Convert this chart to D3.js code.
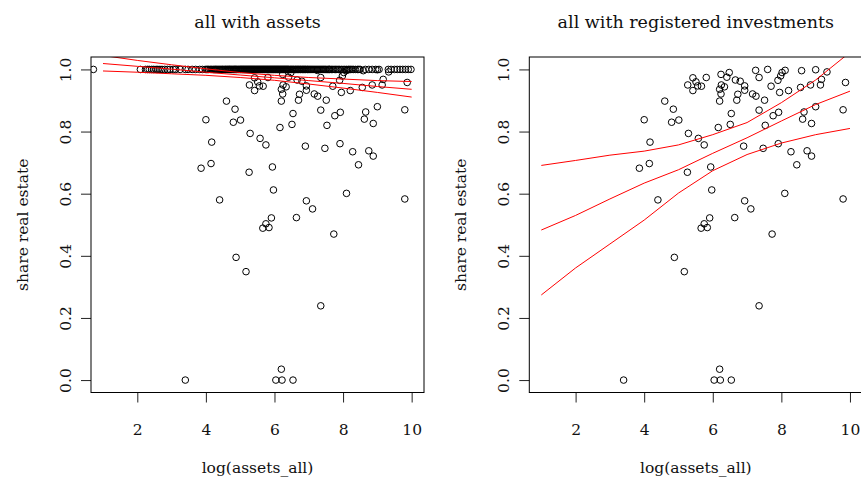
<!DOCTYPE html>
<html>
<head>
<meta charset="utf-8">
<script src="https://cdn.jsdelivr.net/npm/d3@7"></script>
<style>
html,body{margin:0;padding:0;background:#fff;}
svg{display:block;}
text{font-family:"DejaVu Serif","Liberation Serif",serif;fill:#111;}
</style>
</head>
<body>
<svg id="chart" width="861" height="479"></svg>
<script>
// ---- data ----
const panelTitles = ["all with assets", "all with registered investments"];
const xLabel = "log(assets_all)";
const yLabel = "share real estate";
const xTicks = [2, 4, 6, 8, 10];
const yTicks = [0.0, 0.2, 0.4, 0.6, 0.8, 1.0];

// households with registered investments (shown in both panels)
const regX = [4.60,4.85,4.00,4.80,5.01,4.17,5.29,5.58,5.75,3.86,4.15,5.26,5.94,5.97,4.40,6.16,
  5.42,5.51,5.27,5.56,5.67,5.42,5.81,6.24,6.41,6.25,6.34,6.20,6.24,6.20,
  6.48,6.66,6.80,6.93,6.93,6.73,6.70,7.16,7.26,7.51,7.25,7.60,7.35,8.02,8.11,7.98,7.90,7.70,7.95,8.21,
  8.59,9.00,9.33,9.17,9.14,8.85,8.56,9.87,9.80,6.54,6.51,7.35,7.76,7.92,7.53,8.66,8.62,9.00,8.88,
  6.90,7.47,7.91,8.28,8.75,8.88,8.45,8.10,6.93,9.80,
  5.91,6.64,7.11,7.73,5.66,5.75,5.84,4.88,5.17,7.35,3.40,6.04,6.22,6.20,6.54];
const regY = [0.898,0.872,0.838,0.830,0.837,0.766,0.794,0.778,0.757,0.682,0.697,0.669,0.686,0.612,0.580,0.813,
  0.973,0.960,0.950,0.947,0.946,0.932,0.974,0.984,0.975,0.950,0.944,0.936,0.921,0.898,
  0.990,0.966,0.962,0.947,0.933,0.920,0.901,0.921,0.914,0.901,0.997,1.000,0.974,0.990,0.997,0.979,0.965,0.946,0.926,0.932,
  0.996,0.999,0.992,0.968,0.950,0.950,0.942,0.958,0.870,0.858,0.823,0.869,0.851,0.862,0.820,0.863,0.840,0.880,0.826,
  0.753,0.746,0.761,0.735,0.738,0.721,0.693,0.601,0.577,0.583,
  0.522,0.523,0.551,0.470,0.489,0.503,0.491,0.395,0.349,0.239,0.000,0.000,0.000,0.035,0.000];

// other asset holders, all with share 1.0 (left panel only)
const onlyAssetX = [0.72,2.09,2.24,2.30,2.35,2.42,2.48,2.55,2.60,2.66,2.72,2.80,2.88,2.95,3.05,3.12,3.25,3.40,3.48,3.60,
  3.70,3.82,3.90,3.98,4.05,4.12,4.18,4.25,4.30,4.36,4.42,4.48,4.53,4.58,4.63,4.68,4.72,4.77,4.82,4.86,
  4.90,4.95,5.00,5.04,5.08,5.12,5.16,5.20,5.24,5.28,5.32,5.36,5.40,5.44,5.48,5.52,5.56,5.60,5.64,5.68,
  5.72,5.76,5.80,5.84,5.88,5.92,5.96,6.00,6.04,6.08,6.12,6.16,6.20,6.24,6.28,6.32,6.36,6.40,6.45,6.50,
  6.55,6.60,6.65,6.70,6.75,6.80,6.85,6.90,6.95,7.00,7.06,7.12,7.18,7.24,7.30,7.36,7.42,7.48,7.55,7.62,
  7.70,7.78,7.86,7.95,8.05,8.15,8.22,8.30,8.42,8.50,8.65,8.75,8.85,8.95,9.05,9.32,9.40,9.50,9.58,9.66,
  9.74,9.82,9.90,9.98,
  4.02,4.08,4.15,4.22,4.28,4.33,4.39,4.45,4.50,4.56,4.61,4.66,4.70,4.75,4.80,4.84,4.88,4.93,4.98,5.02,
  5.06,5.10,5.14,5.18,5.22,5.26,5.30,5.34,5.38,5.42,5.46,5.50,5.54,5.58,5.62,5.66,5.70,5.74,5.78,5.82,
  5.86,5.90,5.94,5.98,6.02,6.06,6.10,6.14,6.18,6.22,6.26,6.30,6.34,6.38,6.42,6.47,6.52,6.57,6.62,6.67,
  6.72,6.77,6.82,6.87,6.92,6.97,7.03,7.09,7.15,7.21,7.27,7.33,7.39,7.45,7.51,7.58,7.66,7.74,7.82,7.90,
  8.00,8.10,8.18,8.26,8.36,8.46];
const onlyAssetY = onlyAssetX.map(() => 1.0);

// fitted lines with bands
const fitX = [1,2,3,4,5,6,7,8,9,10];
const leftFit  = [1.019,1.010,1.001,0.991,0.982,0.973,0.964,0.955,0.945,0.936];
const leftHi   = [1.045,1.029,1.015,1.002,0.990,0.981,0.974,0.969,0.964,0.961];
const leftLo   = [0.995,0.991,0.986,0.981,0.974,0.965,0.953,0.940,0.926,0.911];
const rightFit = [0.483,0.530,0.583,0.634,0.677,0.730,0.780,0.834,0.887,0.930];
const rightHi  = [0.691,0.707,0.724,0.737,0.757,0.790,0.829,0.893,0.966,1.055];
const rightLo  = [0.274,0.361,0.438,0.515,0.602,0.674,0.726,0.763,0.790,0.810];

// ---- drawing ----
const svg = d3.select("#chart");
const W = 333, H = 335.5, plotTop = 57;
const panels = [
  {left: 91,    title: panelTitles[0], px: regX.concat(onlyAssetX), py: regY.concat(onlyAssetY), lines: [leftHi, leftFit, leftLo]},
  {left: 529.3, title: panelTitles[1], px: regX, py: regY, lines: [rightHi, rightFit, rightLo]}
];

panels.forEach((p, i) => {
  const x = d3.scaleLinear().domain([0.65, 10.36]).range([p.left, p.left + W]);
  const y = d3.scaleLinear().domain([-0.04, 1.04]).range([plotTop + H, plotTop]);
  const g = svg.append("g");

  const clipId = "clip" + i;
  svg.append("clipPath").attr("id", clipId).append("rect")
    .attr("x", p.left).attr("y", plotTop).attr("width", W).attr("height", H);

  // points
  const pts = g.append("g").attr("clip-path", `url(#${clipId})`);
  pts.selectAll("circle").data(d3.range(p.px.length)).join("circle")
    .attr("cx", k => x(p.px[k])).attr("cy", k => y(p.py[k])).attr("r", 3.3)
    .attr("fill", "none").attr("stroke", "#000").attr("stroke-width", 1);

  // fitted lines
  const line = d3.line().x((d, k) => x(fitX[k])).y(d => y(d));
  const lg = g.append("g").attr("clip-path", `url(#${clipId})`);
  p.lines.forEach(arr => {
    lg.append("path").attr("d", line(arr)).attr("fill", "none")
      .attr("stroke", "#ff0000").attr("stroke-width", 1);
  });

  // axes
  const xa = g.append("g").attr("transform", `translate(0,${plotTop + H})`)
    .call(d3.axisBottom(x).tickValues(xTicks).tickSize(10).tickPadding(0).tickFormat(d3.format("d")));
  xa.select(".domain").remove();
  xa.selectAll("line").attr("stroke", "#222");
  xa.selectAll("text").attr("font-size", 15.5).attr("y", 0).attr("dy", 0)
    .attr("transform", "translate(0,42)");

  const ya = g.append("g").attr("transform", `translate(${p.left},0)`)
    .call(d3.axisLeft(y).tickValues(yTicks).tickSize(10).tickFormat(d3.format(".1f")));
  ya.select(".domain").remove();
  ya.selectAll("line").attr("stroke", "#222");
  ya.selectAll("text").attr("font-size", 15.5).attr("x", 0).attr("dy", 0)
    .attr("text-anchor", "middle")
    .attr("transform", "translate(-20.5,0) rotate(-90)");

  // box
  g.append("rect").attr("x", p.left).attr("y", plotTop).attr("width", W).attr("height", H)
    .attr("fill", "none").attr("stroke", "#000").attr("stroke-width", 1);

  // titles & labels
  g.append("text").attr("x", p.left + W / 2).attr("y", 28).attr("text-anchor", "middle")
    .attr("font-size", 17.5).text(p.title);
  g.append("text").attr("x", p.left + W / 2).attr("y", 473).attr("text-anchor", "middle")
    .attr("font-size", 15.5).text(xLabel);
  g.append("text").attr("text-anchor", "middle").attr("font-size", 15.5)
    .attr("transform", `translate(${p.left - 63},${plotTop + H / 2}) rotate(-90)`).text(yLabel);
});
</script>
</body>
</html>
